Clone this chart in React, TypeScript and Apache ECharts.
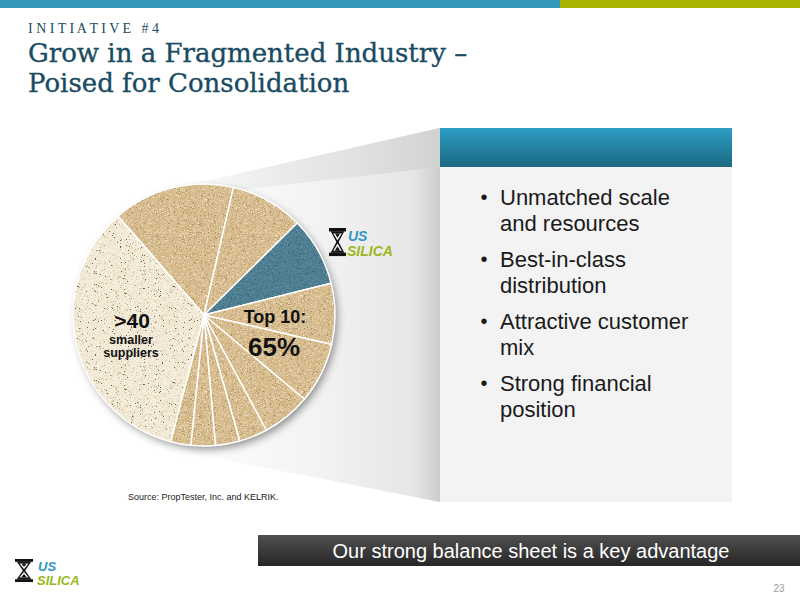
import React, { useEffect, useRef } from 'react';
import * as echarts from 'echarts';

// ---------- data ----------
const supplierNames = [
  'Supplier 1', 'Supplier 2', 'U.S. Silica', 'Supplier 4', 'Supplier 5',
  'Supplier 6', 'Supplier 7', 'Supplier 8', 'Supplier 9', 'Supplier 10',
  '>40 smaller suppliers',
];
const supplierShares = [15, 9, 8.5, 7.5, 7.5, 6, 3.5, 3, 3, 2.5, 34.5];
const supplierKinds = ['top', 'top', 'usSilica', 'top', 'top', 'top', 'top', 'top', 'top', 'top', 'small'];

const kickerText = 'I N I T I A T I V E   # 4';
const titleLines = ['Grow in a Fragmented Industry –', 'Poised for Consolidation'];
const topLabelLines = ['Top 10:', '65%'];
const smallLabelLines = ['>40', 'smaller', 'suppliers'];
const bulletLines = [
  ['Unmatched scale', 'and resources'],
  ['Best-in-class', 'distribution'],
  ['Attractive customer', 'mix'],
  ['Strong financial', 'position'],
];
const sourceText = 'Source: PropTester, Inc. and KELRIK.';
const bannerText = 'Our strong balance sheet is a key advantage';
const pageNumber = '23';
const logoWords = ['US', 'SILICA'];

// ---------- helpers ----------
function makeTexture(base: string, specks: { color: string; count: number }[], seed: number) {
  const size = 96;
  const c = document.createElement('canvas');
  c.width = size;
  c.height = size;
  const ctx = c.getContext('2d')!;
  ctx.fillStyle = base;
  ctx.fillRect(0, 0, size, size);
  let s = seed >>> 0;
  const next = () => {
    s = (Math.imul(s, 1103515245) + 12345) >>> 0;
    return (s & 0x7fffffff) / 0x7fffffff;
  };
  specks.forEach((sp) => {
    ctx.fillStyle = sp.color;
    for (let i = 0; i < sp.count; i++) {
      ctx.fillRect(Math.floor(next() * size), Math.floor(next() * size), 1, 1);
    }
  });
  return c;
}

function hourglass(x: number, y: number, sx: number, sy: number, z: number) {
  const k = '#111111';
  return {
    type: 'group', x, y, scaleX: sx, scaleY: sy, z,
    children: [
      { type: 'rect', z, shape: { x: 0, y: 0, width: 20, height: 3.2 }, style: { fill: k } },
      { type: 'rect', z, shape: { x: 0, y: 22.8, width: 20, height: 3.2 }, style: { fill: k } },
      { type: 'polygon', z, shape: { points: [[2, 3], [18, 3], [11.3, 13], [18, 23], [2, 23], [8.7, 13]] }, style: { fill: k } },
      { type: 'polygon', z: z + 1, shape: { points: [[5, 5], [15, 5], [10, 11.6]] }, style: { fill: '#fff' } },
      { type: 'polygon', z: z + 1, shape: { points: [[10, 14.4], [15, 21], [5, 21]] }, style: { fill: '#fff' } },
      { type: 'polygon', z: z + 2, shape: { points: [[7, 5], [13, 5], [10, 9]] }, style: { fill: k } },
      { type: 'polygon', z: z + 2, shape: { points: [[10, 17], [13.2, 21], [6.8, 21]] }, style: { fill: k } },
    ],
  };
}

function logo(x: number, y: number, sx: number, sy: number, tx: number, usY: number, silY: number, fs: number, z: number) {
  return [
    hourglass(x, y, sx, sy, z),
    {
      type: 'text', z, style: {
        text: logoWords[0], x: tx + 1, y: usY, fill: '#2F97C1', fontSize: fs, fontWeight: 900, lineHeight: fs,
        fontStyle: 'italic', fontFamily: '"Liberation Sans", Arial, sans-serif', verticalAlign: 'middle', align: 'left',
      },
    },
    {
      type: 'text', z, style: {
        text: logoWords[1], x: tx, y: silY, fill: '#9CB71C', fontSize: fs, fontWeight: 900, lineHeight: fs,
        fontStyle: 'italic', fontFamily: '"Liberation Sans", Arial, sans-serif', verticalAlign: 'middle', align: 'left',
      },
    },
  ];
}

const SANS = '"Liberation Sans", Arial, sans-serif';

export default function App() {
  const ref = useRef<HTMLDivElement>(null);

  useEffect(() => {
    if (!ref.current) return;
    const chart = echarts.init(ref.current, undefined, { renderer: 'svg' });

    const tanTex = makeTexture('#D7BD8F', [
      { color: '#C6A977', count: 1700 },
      { color: '#E5D2AE', count: 1400 },
      { color: '#AE9163', count: 280 },
      { color: '#F0E3C8', count: 200 },
    ], 7);
    const lightTex = makeTexture('#F2EAD6', [
      { color: '#E5D8BA', count: 1400 },
      { color: '#FBF7EC', count: 900 },
      { color: '#6E6250', count: 140 },
      { color: '#BCAC8D', count: 260 },
    ], 11);
    const blueTex = makeTexture('#4F7F93', [
      { color: '#46727F', count: 1400 },
      { color: '#5D8EA2', count: 1100 },
      { color: '#3B606E', count: 220 },
    ], 23);

    const colorFor = (kind: string) => {
      const tex = kind === 'usSilica' ? blueTex : kind === 'small' ? lightTex : tanTex;
      return { image: tex, repeat: 'repeat' };
    };

    const pieCenter = [204, 315];
    const pieRadius = 131;

    const graphics: any[] = [
      // top bars
      { type: 'rect', z: 0, shape: { x: 0, y: 0, width: 560, height: 8 }, style: { fill: '#3399BB' } },
      { type: 'rect', z: 0, shape: { x: 560, y: 0, width: 240, height: 8 }, style: { fill: '#A8B400' } },
      // titles
      {
        type: 'text', z: 5, style: {
          text: kickerText, x: 28, y: 28, fill: '#1A4A60', fontSize: 14,
          fontFamily: '"Liberation Serif", "DejaVu Serif", serif', verticalAlign: 'middle', align: 'left',
        },
      },
      ...titleLines.map((t, i) => ({
        type: 'text', z: 5, style: {
          text: t, x: 28, y: 53 + i * 30, fill: '#1A4B62', fontSize: 26,
          fontFamily: '"DejaVu Serif", serif', verticalAlign: 'middle', align: 'left',
          stroke: '#1A4B62', lineWidth: 0.35,
        },
      })),
      // funnel
      {
        type: 'polygon', z: 0,
        shape: { points: [[170, 189], [440, 128], [440, 502], [185, 452]] },
        style: {
          fill: new echarts.graphic.LinearGradient(0, 0, 1, 0, [
            { offset: 0, color: '#FFFFFF' },
            { offset: 0.55, color: '#F3F3F3' },
            { offset: 0.9, color: '#E6E6E6' },
            { offset: 1, color: '#CDCDCD' },
          ]),
        },
      },
      {
        type: 'polygon', z: 0,
        shape: { points: [[170, 189], [440, 128], [440, 167], [170, 198]] },
        style: {
          fill: new echarts.graphic.LinearGradient(0, 0, 1, 0, [
            { offset: 0, color: 'rgba(225,225,225,0)' },
            { offset: 0.7, color: 'rgba(222,222,222,0.8)' },
            { offset: 1, color: '#D2D2D2' },
          ]),
        },
      },
      // panel
      { type: 'rect', z: 0, shape: { x: 440, y: 128, width: 292, height: 374 }, style: { fill: '#F3F3F3' } },
      {
        type: 'rect', z: 0, shape: { x: 440, y: 128, width: 292, height: 39 },
        style: {
          fill: new echarts.graphic.LinearGradient(0, 0, 0, 1, [
            { offset: 0, color: '#2C9DC4' },
            { offset: 1, color: '#1B6880' },
          ]),
        },
      },
      // pie shadow disc
      {
        type: 'circle', z: 1,
        shape: { cx: pieCenter[0], cy: pieCenter[1], r: pieRadius - 1 },
        style: { fill: '#ffffff', shadowBlur: 8, shadowOffsetX: 3, shadowOffsetY: 4, shadowColor: 'rgba(0,0,0,0.45)' },
      },
      // pie labels
      {
        type: 'text', z: 20, style: {
          text: smallLabelLines[0], x: 132, y: 320.5, fill: '#111', fontSize: 21, fontWeight: 'bold', lineHeight: 21,
          fontFamily: SANS, align: 'center', verticalAlign: 'middle',
        },
      },
      ...smallLabelLines.slice(1).map((t, i) => ({
        type: 'text', z: 20, style: {
          text: t, x: 131, y: 339.5 + i * 13.5, fill: '#111', fontSize: 12.5, fontWeight: 'bold', lineHeight: 12.5,
          fontFamily: SANS, align: 'center', verticalAlign: 'middle',
        },
      })),
      {
        type: 'text', z: 20, style: {
          text: topLabelLines[0], x: 275, y: 317, fill: '#111', fontSize: 18, fontWeight: 'bold', lineHeight: 18,
          fontFamily: SANS, align: 'center', verticalAlign: 'middle',
        },
      },
      {
        type: 'text', z: 20, style: {
          text: topLabelLines[1], x: 274, y: 347, fill: '#111', fontSize: 26, fontWeight: 'bold', lineHeight: 26,
          fontFamily: SANS, align: 'center', verticalAlign: 'middle',
        },
      },
      // bullets
      ...bulletLines.flatMap((lines, i) => {
        const y0 = 197 + i * 62;
        return [
          {
            type: 'text', z: 5, style: {
              text: '•', x: 484, y: y0, fill: '#1a1a1a', fontSize: 20, fontFamily: SANS,
              align: 'center', verticalAlign: 'middle',
            },
          },
          ...lines.map((t, j) => ({
            type: 'text', z: 5, style: {
              text: t, x: 500, y: y0 + j * 26.5, fill: '#1a1a1a', fontSize: 22, fontFamily: SANS,
              align: 'left', verticalAlign: 'middle', lineHeight: 24,
            },
          })),
        ];
      }),
      // source
      {
        type: 'text', z: 5, style: {
          text: sourceText, x: 128, y: 497, fill: '#222', fontSize: 9, fontFamily: SANS,
          align: 'left', verticalAlign: 'middle',
        },
      },
      // banner
      {
        type: 'rect', z: 0, shape: { x: 258, y: 535, width: 542, height: 31 },
        style: {
          fill: new echarts.graphic.LinearGradient(0, 0, 0, 1, [
            { offset: 0, color: '#505050' },
            { offset: 1, color: '#262626' },
          ]),
        },
      },
      {
        type: 'text', z: 5, style: {
          text: bannerText, x: 531, y: 551, fill: '#ffffff', fontSize: 20, fontFamily: SANS,
          align: 'center', verticalAlign: 'middle',
        },
      },
      {
        type: 'text', z: 5, style: {
          text: pageNumber, x: 779, y: 588, fill: '#9a9a9a', fontSize: 10, fontFamily: SANS,
          align: 'center', verticalAlign: 'middle',
        },
      },
      ...logo(329, 228, 0.85, 1.08, 347, 235.5, 250.5, 14, 20),
      ...logo(15, 559, 0.9, 0.885, 37, 566.5, 580.5, 13, 20),
    ];

    chart.setOption({
      animation: false,
      backgroundColor: '#ffffff',
      graphic: { elements: graphics },
      series: [
        {
          type: 'pie',
          z: 2,
          silent: true,
          center: pieCenter,
          radius: pieRadius,
          startAngle: 131,
          clockwise: true,
          label: { show: false },
          labelLine: { show: false },
          emphasis: { disabled: true },
          itemStyle: { borderColor: '#ffffff', borderWidth: 1.5 },
          data: supplierNames.map((name, i) => ({
            name,
            value: supplierShares[i],
            itemStyle: { color: colorFor(supplierKinds[i]) },
          })),
        },
      ],
    });

    return () => chart.dispose();
  }, []);

  return (
    <div
      ref={ref}
      style={{ position: 'absolute', left: 0, top: 0, width: 800, height: 600, background: '#fff' }}
    />
  );
}
